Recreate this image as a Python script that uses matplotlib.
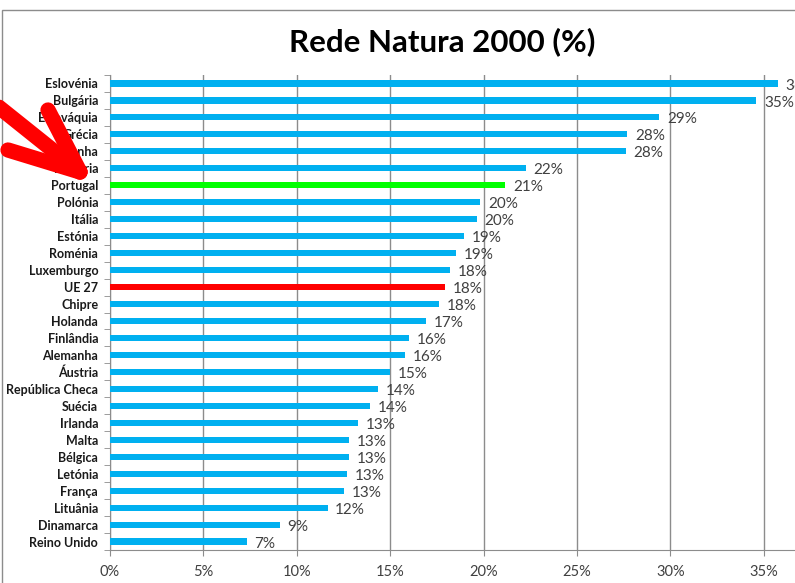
import matplotlib
matplotlib.use("Agg")
import matplotlib.pyplot as plt
from matplotlib.lines import Line2D
from matplotlib.patches import Rectangle

countries = ["Eslovénia", "Bulgária", "Eslováquia", "Grécia", "Espanha", "Hungria",
             "Portugal", "Polónia", "Itália", "Estónia", "Roménia", "Luxemburgo",
             "UE 27", "Chipre", "Holanda", "Finlândia", "Alemanha", "Áustria",
             "República Checa", "Suécia", "Irlanda", "Malta", "Bélgica", "Letónia",
             "França", "Lituânia", "Dinamarca", "Reino Unido"]
values = [35.76, 34.6, 29.4, 27.7, 27.6, 22.25, 21.17, 19.83, 19.63, 18.97, 18.54,
          18.2, 17.93, 17.6, 16.9, 16.02, 15.81, 14.99, 14.36, 13.92, 13.26, 12.79,
          12.79, 12.67, 12.53, 11.65, 9.1, 7.32]
highlight = {"Portugal": "#00FF00", "UE 27": "#FF0000"}
xticks = [0, 5, 10, 15, 20, 25, 30, 35]

W, H = 795, 583
fig = plt.figure(figsize=(W / 100, H / 100), dpi=100)
fig.patch.set_facecolor("white")

# outer chart border (partly cut off)
fig.add_artist(Rectangle((2 / W, -0.2), 1.5, (H - 10) / H + 0.2, transform=fig.transFigure,
                         fill=False, edgecolor="#8c8c8c", linewidth=1.0))

left = 110 / W
top_px, bot_px = 75, 550
px_per_pct = 18.68
ax = fig.add_axes([left, (H - bot_px) / H, 40 * px_per_pct / W, (bot_px - top_px) / H])

n = len(countries)
ypos = list(range(n))[::-1]
colors = [highlight.get(c, "#00B0F0") for c in countries]
ax.barh(ypos, values, height=0.36, color=colors, zorder=3)

ax.set_xlim(0, 40)
ax.set_ylim(-0.5, n - 0.5)
ax.set_xticks(xticks)
ax.set_xticklabels([f"{t}%" for t in xticks], fontsize=10.5, color="#404040", family="Lato")
ax.grid(axis="x", color="#8c8c8c", linewidth=1.0, zorder=0)

ax.set_yticks(ypos)
ax.set_yticklabels(countries, fontsize=9, fontweight="bold", family="Lato", color="#1a1a1a")
ax.set_yticks([i - 0.5 for i in range(n + 1)], minor=True)
ax.tick_params(axis="y", which="major", length=0, pad=8.5)
ax.tick_params(axis="y", which="minor", length=4, color="#8c8c8c", direction="out")
ax.tick_params(axis="x", length=4, color="#8c8c8c", direction="out", pad=7)

for s in ["top", "right"]:
    ax.spines[s].set_visible(False)
for s in ["left", "bottom"]:
    ax.spines[s].set_color("#8c8c8c")

for y, v in zip(ypos, values):
    ax.annotate(f"{round(v)}%", xy=(v, y), xytext=(5.5, -1.5), textcoords="offset points",
                ha="left", va="center", fontsize=11, color="#404040", family="Lato",
                zorder=4)

fig.text(442 / W, 1 - 42 / H, "Rede Natura 2000 (%)", ha="center", va="center",
         fontsize=22.5, fontweight="bold", family="Lato", color="black")

# red arrow overlay
def fpt(x, y):
    return x / W, 1 - y / H

tip = (80, 172)
for start in [(-10, 100), (48, 110), (8, 150)]:
    xs, ys = zip(fpt(*start), fpt(*tip))
    fig.add_artist(Line2D(xs, ys, transform=fig.transFigure, color="#FF0000",
                          linewidth=11, solid_capstyle="round", zorder=10))

fig.savefig("out.png", dpi=100)
